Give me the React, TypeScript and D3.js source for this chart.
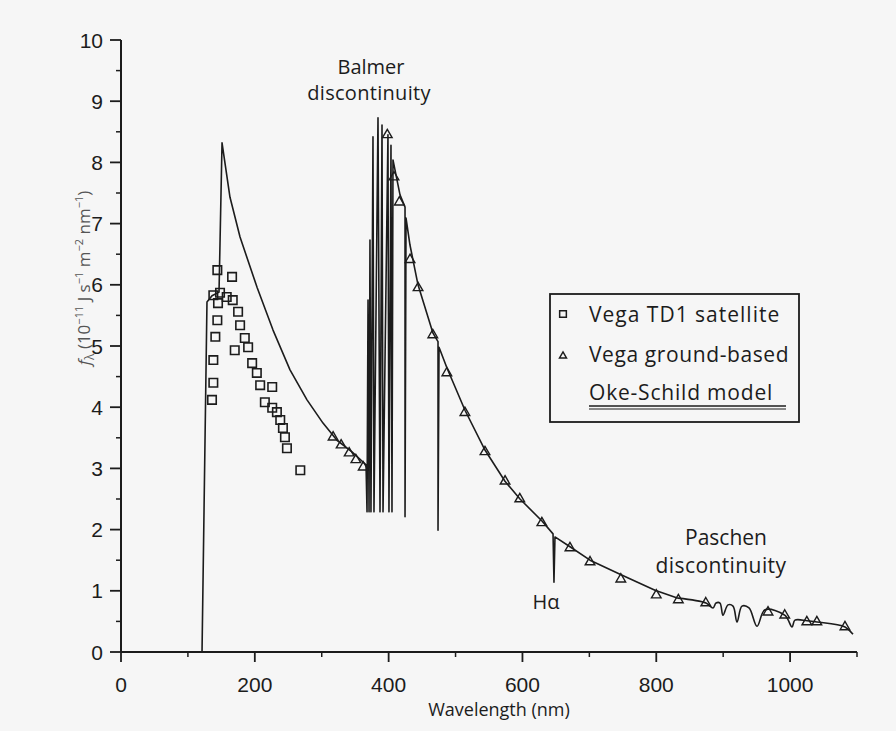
import React from 'react';
import * as d3 from 'd3';

// ---- axis ticks ----
const xTickValues = [0, 200, 400, 600, 800, 1000];
const xMinorValues = [100, 300, 500, 700, 900, 1100];
const yTickValues = [0, 1, 2, 3, 4, 5, 6, 7, 8, 9, 10];
const yMinorValues = [0.5, 1.5, 2.5, 3.5, 4.5, 5.5, 6.5, 7.5, 8.5, 9.5];

// ---- Vega TD1 satellite (squares) ----
const td1Wavelength = [166, 144, 138, 148, 158, 167, 145, 175, 144, 178, 141, 185, 170, 190, 138, 196, 203, 138, 208, 226, 136, 215, 226, 233, 238, 242, 245, 248, 268];
const td1Flux = [6.13, 6.24, 5.83, 5.87, 5.8, 5.75, 5.7, 5.56, 5.42, 5.34, 5.15, 5.13, 4.93, 4.98, 4.77, 4.72, 4.56, 4.4, 4.36, 4.33, 4.12, 4.08, 3.99, 3.92, 3.79, 3.66, 3.51, 3.33, 2.97];

// ---- Vega ground-based (triangles) ----
const groundWavelength = [317, 329, 341, 351, 362, 398, 408, 416, 432, 444, 466, 487, 514, 544, 574, 596, 629, 671, 701, 747, 800, 833, 874, 967, 992, 1025, 1040, 1082];
const groundFlux = [3.51, 3.38, 3.25, 3.14, 3.02, 8.45, 7.76, 7.35, 6.41, 5.95, 5.18, 4.56, 3.91, 3.27, 2.79, 2.5, 2.11, 1.7, 1.47, 1.19, 0.93, 0.85, 0.8, 0.65, 0.6, 0.49, 0.49, 0.41];

// ---- Oke-Schild model ----
const modelWavelength = [
  121.1, 128.5, 136.0, 146.5, 151.0, 162.9, 177.9, 203.3, 227.2, 252.6, 278.0, 301.9, 322.8, 345.2, 366.2,
  367.7, 369.2, 370.7, 372.1, 373.6, 376.6, 378.1, 384.1, 387.1, 390.1, 391.6, 399.0, 400.5, 403.5, 405.0, 406.5,
  417.0, 424.5, 424.5, 426.0, 431.9, 443.9, 466.3, 473.8, 473.8, 475.3, 487.2, 514.1, 544.0, 573.9, 596.3, 629.2,
  645.7, 647.1, 648.6, 671.1, 701.0, 745.8, 798.1, 832.5, 874.3, 884.8, 889.3, 895.2, 899.7, 907.2, 914.7, 920.7,
  928.1, 938.6, 950.6, 962.5, 992.4, 1002.9, 1007.3, 1025.3, 1040.2, 1082.1, 1094.0,
];
const modelFlux = [
  0, 5.72, 5.82, 5.88, 8.32, 7.43, 6.78, 5.96, 5.26, 4.61, 4.12, 3.74, 3.46, 3.27, 3.06,
  2.29, 5.75, 2.29, 6.73, 2.29, 8.42, 2.29, 8.73, 2.29, 8.61, 2.29, 8.45, 2.29, 8.28, 2.29, 8.04,
  7.47, 7.27, 2.21, 7.09, 6.65, 6.0, 5.21, 5.07, 1.99, 4.98, 4.64, 3.95, 3.3, 2.79, 2.5, 2.14,
  1.93, 1.14, 1.88, 1.72, 1.5, 1.27, 1.01, 0.88, 0.8, 0.72, 0.8, 0.8, 0.6, 0.77, 0.75, 0.49,
  0.75, 0.72, 0.42, 0.69, 0.6, 0.41, 0.52, 0.51, 0.49, 0.41, 0.29,
];
// wavelength from which the model is drawn as a smooth curve (Paschen scallops)
const smoothFrom = 832.5;

const W = 896;
const H = 731;
const INK = '#1c1c1c';
const TEXT_FONT = "'Open Sans', 'DejaVu Sans', sans-serif";
const NUM_FONT = "'Liberation Sans', Arial, sans-serif";

export default function App() {
  const x = d3.scaleLinear().domain([0, 1100]).range([121, 857]);
  const y = d3.scaleLinear().domain([0, 10]).range([652, 40]);

  const modelData: [number, number][] = modelWavelength.map((w, i) => [w, modelFlux[i]]);
  const sharpPart = modelData.filter((d) => d[0] <= smoothFrom);
  const smoothPart = modelData.filter((d) => d[0] >= smoothFrom);
  const lineGen = (curve: d3.CurveFactory) =>
    d3
      .line<[number, number]>()
      .x((d) => x(d[0]))
      .y((d) => y(d[1]))
      .curve(curve);
  const sharpPath = lineGen(d3.curveLinear)(sharpPart) as string;
  const smoothPath = lineGen(d3.curveCatmullRom.alpha(0.5))(smoothPart) as string;

  const squarePath = d3.symbol(d3.symbolSquare, 72)() as string;
  const trianglePath = d3.symbol(d3.symbolTriangle, 40)() as string;
  const legendSquare = d3.symbol(d3.symbolSquare, 45)() as string;
  const legendTriangle = d3.symbol(d3.symbolTriangle, 22)() as string;

  const x0 = x(0);
  const y0 = y(0);

  return (
    <svg
      width={W}
      height={H}
      style={{ position: 'absolute', left: 0, top: 0, background: '#f6f6f6' }}
    >
      <rect x={0} y={0} width={W} height={H} fill="#f6f6f6" />

      {/* Y axis */}
      <line x1={x0} x2={x0} y1={y(0)} y2={y(10)} stroke={INK} strokeWidth={2} />
      {yTickValues.map((v) => (
        <g key={'yt' + v}>
          <line x1={x0 - 11} x2={x0} y1={y(v)} y2={y(v)} stroke={INK} strokeWidth={1.8} />
          <text
            x={x0 - 18}
            y={y(v)}
            dy="0.36em"
            textAnchor="end"
            fontFamily={NUM_FONT}
            fontSize={21}
            fill={INK}
          >
            {v}
          </text>
        </g>
      ))}
      {yMinorValues.map((v) => (
        <line key={'ym' + v} x1={x0 - 5} x2={x0} y1={y(v)} y2={y(v)} stroke={INK} strokeWidth={1.5} />
      ))}

      {/* X axis */}
      <line x1={x0} x2={x(1100)} y1={y0} y2={y0} stroke={INK} strokeWidth={2} />
      {xTickValues.map((v) => (
        <g key={'xt' + v}>
          <line x1={x(v)} x2={x(v)} y1={y0} y2={y0 + 10} stroke={INK} strokeWidth={1.8} />
          <text
            x={x(v)}
            y={y0 + 40}
            textAnchor="middle"
            fontFamily={NUM_FONT}
            fontSize={21}
            fill={INK}
          >
            {v}
          </text>
        </g>
      ))}
      {xMinorValues.map((v) => (
        <line key={'xm' + v} x1={x(v)} x2={x(v)} y1={y0} y2={y0 + 5} stroke={INK} strokeWidth={1.5} />
      ))}

      {/* axis titles */}
      <text
        x={499}
        y={716}
        textAnchor="middle"
        fontFamily={TEXT_FONT}
        fontSize={18}
        fill={INK}
      >
        Wavelength (nm)
      </text>
      <text
        transform="translate(90,278) rotate(-90)"
        textAnchor="middle"
        fontFamily={TEXT_FONT}
        fontSize={17}
        fill="#555"
      >
        <tspan fontStyle="italic">f</tspan>
        <tspan fontSize={12} dy={4}>λ</tspan>
        <tspan dy={-4}> (10</tspan>
        <tspan fontSize={11} dy={-7}>−11</tspan>
        <tspan dy={7}> J s</tspan>
        <tspan fontSize={11} dy={-7}>−1</tspan>
        <tspan dy={7}> m</tspan>
        <tspan fontSize={11} dy={-7}>−2</tspan>
        <tspan dy={7}> nm</tspan>
        <tspan fontSize={11} dy={-7}>−1</tspan>
        <tspan dy={7}>)</tspan>
      </text>

      {/* model */}
      <path d={sharpPath} fill="none" stroke={INK} strokeWidth={1.6} strokeLinejoin="round" />
      <path d={smoothPath} fill="none" stroke={INK} strokeWidth={1.6} strokeLinejoin="round" />

      {/* TD1 squares */}
      {td1Wavelength.map((w, i) => (
        <path
          key={'sq' + i}
          d={squarePath}
          transform={`translate(${x(w)},${y(td1Flux[i])})`}
          fill="none"
          stroke={INK}
          strokeWidth={1.6}
        />
      ))}

      {/* ground-based triangles */}
      {groundWavelength.map((w, i) => (
        <path
          key={'tr' + i}
          d={trianglePath}
          transform={`translate(${x(w)},${y(groundFlux[i])})`}
          fill="none"
          stroke={INK}
          strokeWidth={1.4}
        />
      ))}

      {/* annotations */}
      <text x={371} y={74} textAnchor="middle" fontFamily={TEXT_FONT} fontSize={20} fill={INK}>
        Balmer
      </text>
      <text x={369} y={100} textAnchor="middle" fontFamily={TEXT_FONT} fontSize={20} letterSpacing={0.3} fill={INK}>
        discontinuity
      </text>
      <text x={726} y={545} textAnchor="middle" fontFamily={TEXT_FONT} fontSize={21} fill={INK}>
        Paschen
      </text>
      <text x={721} y={573} textAnchor="middle" fontFamily={TEXT_FONT} fontSize={21} letterSpacing={0.4} fill={INK}>
        discontinuity
      </text>
      <text x={546} y={609} textAnchor="middle" fontFamily={TEXT_FONT} fontSize={20} fill={INK}>
        Hα
      </text>

      {/* legend */}
      <rect x={550} y={294} width={249} height={128} fill="none" stroke={INK} strokeWidth={1.8} />
      <path d={legendSquare} transform="translate(563,314)" fill="none" stroke={INK} strokeWidth={1.5} />
      <text x={589} y={322} fontFamily={TEXT_FONT} fontSize={21} letterSpacing={1} fill={INK}>
        Vega TD1 satellite
      </text>
      <path d={legendTriangle} transform="translate(563,356)" fill="none" stroke={INK} strokeWidth={1.4} />
      <text x={589} y={362} fontFamily={TEXT_FONT} fontSize={21} letterSpacing={0.6} fill={INK}>
        Vega ground-based
      </text>
      <text x={589} y={400} fontFamily={TEXT_FONT} fontSize={21} letterSpacing={0.8} fill={INK}>
        Oke-Schild model
      </text>
      <line x1={589} x2={786} y1={406} y2={406} stroke={INK} strokeWidth={1.6} />
      <line x1={589} x2={786} y1={409} y2={409} stroke={INK} strokeWidth={1.2} />
    </svg>
  );
}
